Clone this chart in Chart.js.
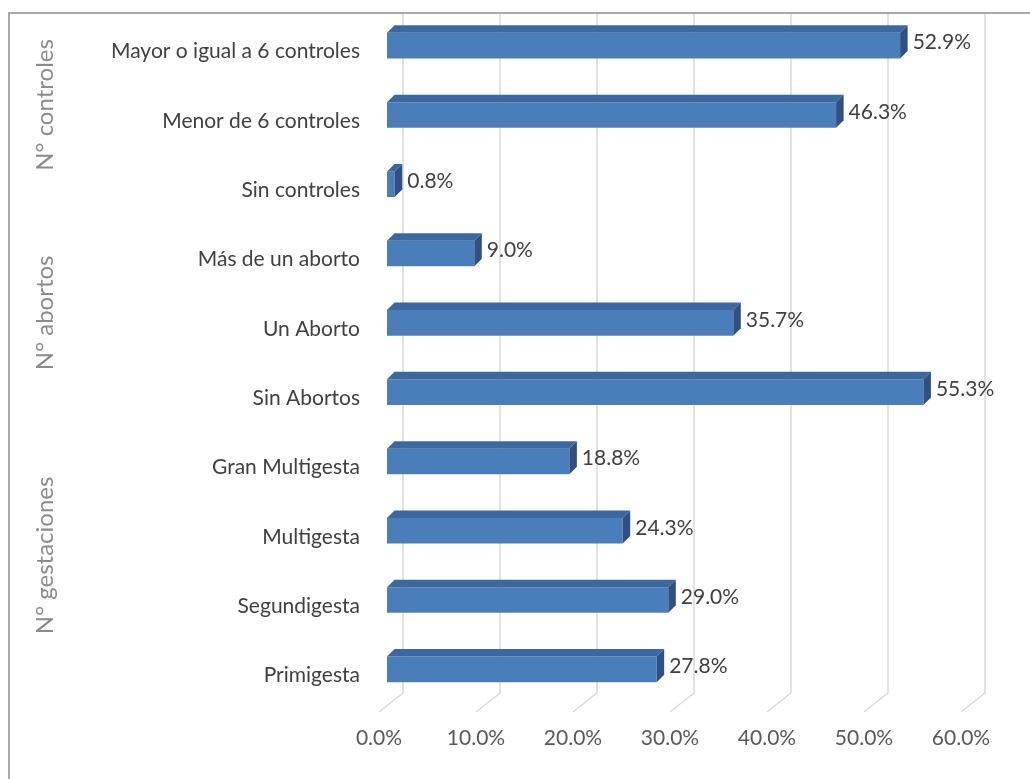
<!DOCTYPE html>
<html>
<head>
<meta charset="utf-8">
<script src="https://cdn.jsdelivr.net/npm/chart.js@4"></script>
<style>
  html, body { margin: 0; padding: 0; background: #fff; overflow: hidden; }
  #wrap { position: relative; width: 1030px; height: 779px; }
  #frame { position: absolute; left: 8px; top: 12px; width: 1100px; height: 900px; border: 2px solid #a9a9a9; box-sizing: border-box; }
  canvas { position: absolute; left: 0; top: 0; }
</style>
</head>
<body>
<div id="wrap">
  <div id="frame"></div>
  <canvas id="chart" width="1030" height="779"></canvas>
</div>
<script>
const categories = [
  'Mayor o igual a 6 controles',
  'Menor de 6 controles',
  'Sin controles',
  'Más de un aborto',
  'Un Aborto',
  'Sin Abortos',
  'Gran Multigesta',
  'Multigesta',
  'Segundigesta',
  'Primigesta'
];
const percentages = [52.9, 46.3, 0.8, 9.0, 35.7, 55.3, 18.8, 24.3, 29.0, 27.8];
const groups = [
  { label: 'N° controles', from: 0, to: 2 },
  { label: 'N° abortos', from: 3, to: 5 },
  { label: 'N° gestaciones', from: 6, to: 9 }
];
const xTicks = [0, 10, 20, 30, 40, 50, 60];

const DEPTH = 7.5;       // bar depth in px
const FLOOR_BACK = 16;   // back wall offset of the grid
const FLOOR_FRONT = 8;
const FONT = 'Lato';

// grid lines drawn like Excel's 3D back wall + floor
const gridPlugin = {
  id: 'grid3d',
  beforeDatasetsDraw(chart) {
    const { ctx, scales: { x }, chartArea } = chart;
    const floorY = chartArea.bottom - 11;
    ctx.save();
    ctx.strokeStyle = '#d9d9d9';
    ctx.lineWidth = 1.5;
    xTicks.forEach(v => {
      const px = x.getPixelForValue(v);
      ctx.beginPath();
      ctx.moveTo(px + FLOOR_BACK, 14);
      ctx.lineTo(px + FLOOR_BACK, floorY);
      ctx.lineTo(px - FLOOR_FRONT, floorY + 19);
      ctx.stroke();
    });
    ctx.restore();
  }
};

// top and side faces of the bars, plus value labels
const barPlugin = {
  id: 'bars3d',
  afterDatasetsDraw(chart) {
    const { ctx } = chart;
    const meta = chart.getDatasetMeta(0);
    ctx.save();
    meta.data.forEach((bar, i) => {
      const top = bar.y - bar.height / 2;
      const bottom = bar.y + bar.height / 2;
      const left = bar.base;
      const right = bar.x;

      ctx.fillStyle = '#3e689c';
      ctx.beginPath();
      ctx.moveTo(left, top);
      ctx.lineTo(left + DEPTH, top - DEPTH);
      ctx.lineTo(right + DEPTH, top - DEPTH);
      ctx.lineTo(right, top);
      ctx.closePath();
      ctx.fill();

      ctx.fillStyle = '#2f5080';
      ctx.beginPath();
      ctx.moveTo(right, top);
      ctx.lineTo(right + DEPTH, top - DEPTH);
      ctx.lineTo(right + DEPTH, bottom - DEPTH);
      ctx.lineTo(right, bottom);
      ctx.closePath();
      ctx.fill();

      ctx.fillStyle = '#404040';
      ctx.font = '21px ' + FONT;
      ctx.textAlign = 'left';
      ctx.textBaseline = 'middle';
      ctx.fillText(percentages[i].toFixed(1) + '%', right + DEPTH + 5, bar.y - 3);
    });
    ctx.restore();
  }
};

// rotated group titles on the left
const groupPlugin = {
  id: 'groupLabels',
  afterDraw(chart) {
    const { ctx, scales: { y } } = chart;
    ctx.save();
    ctx.fillStyle = '#8c8c8c';
    ctx.font = '24px ' + FONT;
    ctx.textAlign = 'center';
    ctx.textBaseline = 'middle';
    groups.forEach(g => {
      const cy = (y.getPixelForValue(g.from) + y.getPixelForValue(g.to)) / 2 - 10;
      ctx.save();
      ctx.translate(45, cy);
      ctx.rotate(-Math.PI / 2);
      ctx.fillText(g.label, 0, 0);
      ctx.restore();
    });
    ctx.restore();
  }
};

new Chart(document.getElementById('chart'), {
  type: 'bar',
  data: {
    labels: categories,
    datasets: [{
      data: percentages,
      backgroundColor: '#4a7ebb',
      borderWidth: 0,
      barPercentage: 0.37,
      categoryPercentage: 1
    }]
  },
  options: {
    indexAxis: 'y',
    responsive: false,
    animation: false,
    layout: { padding: { left: 0, right: 61, top: 11, bottom: 0 } },
    plugins: {
      legend: { display: false },
      tooltip: { enabled: false }
    },
    scales: {
      x: {
        min: 0,
        max: 60,
        afterFit(scale) { scale.height = 75; },
        afterBuildTicks(scale) { scale.ticks = xTicks.map(v => ({ value: v })); },
        grid: { display: false, drawTicks: false },
        border: { display: false },
        ticks: {
          padding: 22,
          labelOffset: -8,
          color: '#595959',
          font: { family: FONT, size: 21 },
          callback: v => v.toFixed(1) + '%'
        }
      },
      y: {
        afterFit(scale) {
          scale.width = 387;
          scale.paddingTop = 0;
          scale.paddingBottom = 0;
        },
        grid: { display: false, drawTicks: false },
        border: { display: false },
        ticks: {
          padding: 27,
          labelOffset: 6,
          color: '#404040',
          font: { family: FONT, size: 21 }
        }
      }
    }
  },
  plugins: [gridPlugin, barPlugin, groupPlugin]
});
</script>
</body>
</html>
